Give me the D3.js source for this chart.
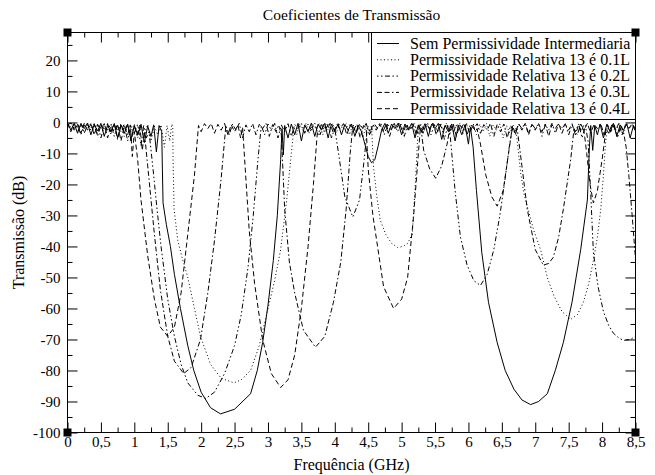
<!doctype html>
<html lang="pt">
<head>
<meta charset="utf-8">
<title>Coeficientes de Transmissão</title>
<style type="text/css">
	body {
		margin: 0;
		background-color: white;
	}
	svg, svg text, .axis text {
		font-family: "Liberation Serif", "Times New Roman", serif;
	}
	.axis path {
		display: none;
	}
	.axis line {
		stroke: black;
		stroke-width: 1px;
	}
	.axis text {
		font-size: 15px;
		fill: black;
	}
	path.line {
		fill: none;
		stroke: black;
		stroke-width: 1px;
	}
	.legend text {
		font-size: 16px;
	}
</style>
</head>
<body>
<script src="https://cdn.jsdelivr.net/npm/d3@7"></script>
<script type="text/javascript">
	// ticks
	var xTicks = [0, 0.5, 1, 1.5, 2, 2.5, 3, 3.5, 4, 4.5, 5, 5.5, 6, 6.5, 7, 7.5, 8, 8.5];
	var yTicks = [-100, -90, -80, -70, -60, -50, -40, -30, -20, -10, 0, 10, 20];

	var seriesNames = [
		"Sem Permissividade Intermediaria",
		"Permissividade Relativa 13 é 0.1L",
		"Permissividade Relativa 13 é 0.2L",
		"Permissividade Relativa 13 é 0.3L",
		"Permissividade Relativa 13 é 0.4L"
	];

	// [frequencia GHz, transmissao dB]
	var semPermissividade = [
		[0,0],[0.05,-2.5],[0.1,-0.3],[0.15,-3.5],[0.2,-0.5],[0.25,-2],[0.3,-0.2],[0.35,-4],[0.4,-0.6],[0.45,-2.8],
		[0.5,-0.3],[0.55,-4.5],[0.6,-1],[0.65,-3],[0.7,-0.4],[0.75,-5],[0.8,-0.8],[0.85,-3.5],[0.9,-0.5],[0.95,-5.5],
		[1.0,-1],[1.05,-4],[1.1,-0.6],[1.15,-6.5],[1.2,-1.2],[1.25,-4.5],[1.29,-0.8],[1.33,-9.5],[1.37,-1],[1.41,-3],
		[1.42,-15],[1.43,-26],[1.48,-33],[1.54,-40],[1.6,-49],[1.69,-60],[1.8,-72],[1.89,-80],[2.0,-87],[2.14,-92],
		[2.29,-94],[2.5,-92.5],[2.74,-87.5],[2.84,-80],[2.92,-71],[3.0,-59],[3.08,-44.5],[3.14,-30],[3.19,-12],[3.21,-2],
		[3.23,-10.5],[3.25,-1],[3.3,-5],[3.35,-0.5],[3.4,-4],[3.45,-0.3],[3.5,-6],[3.55,-0.8],[3.6,-3],[3.65,-0.2],
		[3.7,-4.5],[3.75,-0.6],[3.8,-2.5],[3.85,-0.3],[3.9,-5],[3.95,-0.5],[4.0,-3],[4.05,-0.4],[4.1,-4],[4.15,-0.7],
		[4.2,-2.5],[4.25,-0.5],[4.3,-4.5],[4.35,-1],[4.4,-3],[4.45,-7],[4.5,-11],[4.55,-13],[4.6,-12],[4.65,-7.5],
		[4.7,-2.5],[4.75,-0.3],[4.8,-3.5],[4.85,-0.5],[4.9,-2],[4.95,-0.2],[5.0,-4],[5.05,-0.5],[5.1,-2.5],[5.15,-0.3],
		[5.2,-5],[5.25,-0.8],[5.3,-3],[5.35,-0.4],[5.4,-4.5],[5.45,-0.5],[5.5,-2],[5.55,-0.3],[5.6,-5.5],[5.65,-1],
		[5.7,-3],[5.75,-0.5],[5.8,-6],[5.85,-1],[5.9,-4],[5.95,-0.8],[6.0,-7],[6.03,-1.5],[6.07,-8],[6.12,-22],
		[6.2,-42],[6.3,-58],[6.43,-71],[6.55,-80],[6.68,-86],[6.8,-89.5],[6.93,-91],[7.05,-90],[7.18,-87.5],[7.3,-80],
		[7.42,-71],[7.55,-58],[7.68,-41],[7.78,-25],[7.81,-8],[7.83,-1],[7.86,-9],[7.89,-1],[7.93,-4],[7.97,-0.5],
		[8.02,-5],[8.07,-0.6],[8.12,-3],[8.17,-0.3],[8.22,-4.5],[8.27,-0.8],[8.32,-2.5],[8.37,-0.4],[8.42,-5],[8.47,-1],
		[8.5,-2.5]
	];

	var relativa01L = [
		[0,-0.5],[0.05,-1.5],[0.1,-0.2],[0.15,-3],[0.2,-0.8],[0.25,-1.5],[0.3,-0.3],[0.35,-2.5],[0.4,-0.5],[0.45,-3.5],
		[0.5,-0.7],[0.55,-2],[0.6,-0.3],[0.65,-4],[0.7,-0.8],[0.75,-2.5],[0.8,-0.4],[0.85,-4.5],[0.9,-1],[0.95,-3],
		[1.0,-0.5],[1.05,-5],[1.1,-1],[1.15,-3.5],[1.2,-0.6],[1.25,-6],[1.3,-1.2],[1.35,-4],[1.4,-0.8],[1.45,-8],
		[1.49,-1],[1.53,-6],[1.56,-0.5],[1.575,-1],[1.58,-12],[1.595,-28],[1.65,-38],[1.72,-44],[1.8,-50],[1.9,-60],
		[1.99,-69],[2.14,-78],[2.3,-82.5],[2.49,-84],[2.6,-83],[2.74,-80],[2.87,-72],[2.99,-61],[3.1,-51],[3.19,-41],
		[3.28,-25],[3.34,-12],[3.39,-1.5],[3.43,-4],[3.47,-0.5],[3.52,-2.5],[3.57,-0.3],[3.62,-3.5],[3.67,-0.6],[3.72,-2],
		[3.77,-0.2],[3.82,-4],[3.87,-0.5],[3.92,-2.5],[3.97,-0.3],[4.02,-3.5],[4.07,-0.7],[4.12,-2],[4.17,-0.4],[4.22,-4],
		[4.27,-0.6],[4.32,-3],[4.37,-0.5],[4.42,-5],[4.47,-0.8],[4.52,-3],[4.55,-1],[4.58,-14.5],[4.63,-24],[4.68,-31.5],
		[4.76,-36],[4.85,-39],[4.94,-40.3],[5.02,-40],[5.09,-39],[5.16,-36],[5.21,-18],[5.24,-5],[5.27,-0.5],[5.32,-3],
		[5.37,-0.4],[5.42,-2],[5.47,-0.2],[5.52,-3.5],[5.57,-0.6],[5.62,-2.5],[5.67,-0.3],[5.72,-4],[5.77,-0.5],[5.82,-2],
		[5.87,-0.4],[5.92,-3.5],[5.97,-0.7],[6.02,-2.5],[6.07,-0.3],[6.12,-4],[6.17,-0.6],[6.22,-3],[6.27,-0.4],[6.32,-4.5],
		[6.37,-0.8],[6.42,-2.5],[6.47,-0.5],[6.52,-5],[6.57,-1],[6.62,-3.5],[6.67,-0.8],[6.71,-2],[6.74,-8],[6.78,-16],
		[6.83,-23],[6.98,-35],[7.08,-41],[7.18,-50],[7.28,-56],[7.4,-61],[7.53,-63.5],[7.63,-62],[7.72,-58],[7.8,-52],
		[7.87,-44.5],[7.93,-37],[7.98,-28],[8.02,-17],[8.05,-7],[8.08,-1],[8.12,-3.5],[8.16,-0.5],[8.21,-2.5],[8.26,-0.3],
		[8.31,-4],[8.36,-0.6],[8.41,-2],[8.46,-0.4],[8.5,-3]
	];

	var relativa02L = [
		[0,-1],[0.05,-0.2],[0.1,-2.5],[0.15,-0.5],[0.2,-4],[0.25,-0.8],[0.3,-2],[0.35,-0.3],[0.4,-3.5],[0.45,-0.6],
		[0.5,-5],[0.55,-1],[0.6,-2.5],[0.65,-0.4],[0.7,-4.5],[0.75,-0.8],[0.8,-3],[0.85,-0.5],[0.9,-6],[0.95,-1.2],
		[1.0,-3.5],[1.05,-0.6],[1.1,-7.5],[1.14,-1],[1.18,-5],[1.22,-3],[1.28,-15],[1.34,-28],[1.4,-40],[1.5,-57],
		[1.6,-69],[1.7,-78],[1.8,-84],[1.95,-88],[2.07,-89],[2.2,-87],[2.35,-81],[2.5,-72],[2.6,-62],[2.7,-47],
		[2.78,-30],[2.85,-12],[2.9,-1],[2.95,-4],[3.0,-0.5],[3.05,-2.5],[3.1,-0.3],[3.15,-5],[3.2,-0.8],[3.25,-3],
		[3.3,-0.4],[3.35,-4.5],[3.4,-0.6],[3.45,-2],[3.5,-0.3],[3.55,-3.5],[3.6,-0.5],[3.65,-2.5],[3.7,-0.2],[3.75,-4],
		[3.8,-0.7],[3.85,-3],[3.9,-0.5],[3.95,-5],[4.0,-2],[4.07,-12],[4.15,-24],[4.27,-30.5],[4.37,-25],[4.44,-12],
		[4.49,-1],[4.54,-3.5],[4.59,-0.4],[4.64,-2],[4.69,-0.3],[4.74,-4],[4.79,-0.6],[4.84,-2.5],[4.89,-0.3],[4.94,-3],
		[4.99,-0.5],[5.04,-4.5],[5.09,-0.8],[5.14,-2],[5.19,-0.4],[5.24,-3.5],[5.29,-0.6],[5.34,-2.5],[5.39,-0.3],[5.44,-4],
		[5.49,-0.7],[5.54,-3],[5.59,-0.5],[5.64,-5.5],[5.69,-1],[5.73,-5],[5.8,-22],[5.88,-37],[5.98,-46],[6.08,-51],
		[6.18,-52.6],[6.28,-49],[6.38,-41],[6.47,-30],[6.55,-18],[6.61,-8],[6.66,-1.5],[6.7,-4],[6.75,-0.5],[6.8,-2.5],
		[6.85,-0.3],[6.9,-3.5],[6.95,-0.6],[7.0,-2],[7.05,-0.4],[7.1,-4.5],[7.15,-0.7],[7.2,-2.5],[7.25,-0.3],[7.3,-3.5],
		[7.35,-0.5],[7.4,-2],[7.45,-0.4],[7.5,-4],[7.55,-0.8],[7.6,-3],[7.65,-0.5],[7.7,-5],[7.75,-1],[7.79,-6],
		[7.83,-23],[7.87,-42],[7.94,-53],[8.02,-61],[8.1,-65.5],[8.17,-68],[8.25,-69.5],[8.32,-70.3],[8.42,-70],[8.5,-69]
	];

	var relativa03L = [
		[0,-0.3],[0.05,-3],[0.1,-0.6],[0.15,-1.5],[0.2,-0.2],[0.25,-3.5],[0.3,-0.7],[0.35,-2],[0.4,-0.4],[0.45,-4.5],
		[0.5,-0.8],[0.55,-2.5],[0.6,-0.5],[0.65,-3],[0.7,-0.3],[0.75,-5.5],[0.8,-1],[0.85,-2.5],[0.9,-0.6],[0.95,-6],
		[1.0,-1.2],[1.04,-4],[1.08,-0.8],[1.12,-9],[1.15,-3],[1.2,-14],[1.3,-36],[1.39,-54],[1.5,-69],[1.6,-77],
		[1.74,-81],[1.85,-79],[1.99,-70],[2.1,-55],[2.2,-38],[2.3,-18],[2.37,-1],[2.42,-4],[2.47,-0.5],[2.52,-2.5],
		[2.57,-0.3],[2.62,-5],[2.67,-0.8],[2.72,-3],[2.77,-0.4],[2.82,-4],[2.87,-0.6],[2.92,-2],[2.97,-0.3],[3.02,-4.5],
		[3.07,-0.7],[3.12,-3],[3.16,-0.8],[3.2,-4],[3.25,-28],[3.32,-45],[3.4,-55],[3.53,-67],[3.71,-72.5],[3.85,-69],
		[3.98,-58],[4.09,-45],[4.17,-28],[4.23,-10],[4.27,-1],[4.32,-3.5],[4.37,-0.5],[4.42,-2],[4.47,-0.3],[4.52,-4],
		[4.57,-0.6],[4.62,-2.5],[4.67,-0.4],[4.72,-3],[4.77,-0.5],[4.82,-4.5],[4.87,-0.8],[4.92,-2],[4.97,-0.3],[5.02,-3.5],
		[5.07,-0.6],[5.12,-2.5],[5.17,-0.4],[5.22,-4],[5.26,-0.8],[5.29,-2],[5.33,-9],[5.42,-15],[5.51,-18],[5.6,-14],
		[5.68,-7],[5.73,-1],[5.78,-3],[5.83,-0.4],[5.88,-2.5],[5.93,-0.3],[5.98,-4],[6.03,-0.6],[6.08,-2],[6.13,-0.4],
		[6.18,-3.5],[6.23,-0.7],[6.28,-2.5],[6.33,-0.3],[6.38,-4.5],[6.43,-0.6],[6.48,-3],[6.53,-0.5],[6.58,-5],[6.63,-1],
		[6.68,-3],[6.73,-2],[6.8,-14],[6.88,-28],[7.0,-41],[7.12,-46],[7.2,-45.5],[7.27,-43.5],[7.35,-37],[7.42,-28],
		[7.53,-12],[7.58,-2],[7.63,-4],[7.68,-0.5],[7.73,-2.5],[7.78,-0.3],[7.83,-3.5],[7.88,-0.6],[7.93,-2],[7.98,-0.4],
		[8.03,-4],[8.08,-0.7],[8.13,-3],[8.18,-0.5],[8.23,-5],[8.28,-1],[8.32,-3],[8.36,-8],[8.4,-17],[8.45,-30],
		[8.5,-44]
	];

	var relativa04L = [
		[0,-0.8],[0.05,-0.2],[0.1,-2],[0.15,-0.5],[0.2,-3.5],[0.25,-0.3],[0.3,-2.5],[0.35,-0.6],[0.4,-4],[0.45,-0.8],
		[0.5,-2],[0.55,-0.4],[0.6,-5],[0.65,-1],[0.7,-3],[0.75,-0.5],[0.8,-6],[0.85,-1.2],[0.9,-4],[0.94,-0.8],
		[0.97,-11],[1.0,-3],[1.05,-12],[1.1,-25],[1.2,-43],[1.3,-57],[1.39,-66],[1.5,-69],[1.6,-66],[1.7,-55],
		[1.8,-36],[1.9,-17],[1.96,-1],[2.0,-3],[2.05,-0.4],[2.1,-2],[2.15,-0.3],[2.2,-3.5],[2.25,-0.6],[2.3,-2.5],
		[2.35,-0.3],[2.4,-4],[2.45,-0.7],[2.5,-3],[2.55,-0.8],[2.59,-5],[2.62,-1.5],[2.66,-15],[2.72,-35],[2.8,-52],
		[2.92,-70],[3.05,-81],[3.19,-85.5],[3.3,-83],[3.4,-75],[3.5,-60],[3.6,-40],[3.68,-20],[3.74,-3],[3.78,-4],
		[3.83,-0.5],[3.88,-2.5],[3.93,-0.3],[3.98,-3.5],[4.03,-0.6],[4.08,-2],[4.13,-0.4],[4.18,-4],[4.23,-0.7],[4.28,-2.5],
		[4.33,-0.5],[4.38,-5],[4.43,-1],[4.47,-2],[4.5,-15],[4.57,-30],[4.64,-40],[4.73,-53],[4.88,-60],[5.0,-57],
		[5.09,-50],[5.18,-30],[5.24,-13],[5.28,-2],[5.32,-3.5],[5.37,-0.4],[5.42,-2],[5.47,-0.3],[5.52,-4],[5.57,-0.6],
		[5.62,-2.5],[5.67,-0.4],[5.72,-3],[5.77,-0.5],[5.82,-4.5],[5.87,-0.8],[5.92,-2],[5.97,-0.4],[6.02,-3.5],[6.07,-0.7],
		[6.1,-3],[6.13,-2],[6.18,-7],[6.26,-17],[6.35,-24],[6.43,-27],[6.52,-22],[6.6,-10],[6.66,-1],[6.7,-3.5],
		[6.75,-0.4],[6.8,-2],[6.85,-0.3],[6.9,-4],[6.95,-0.6],[7.0,-2.5],[7.05,-0.4],[7.1,-3],[7.15,-0.5],[7.2,-4.5],
		[7.25,-0.8],[7.3,-2],[7.35,-0.3],[7.4,-3.5],[7.45,-0.6],[7.5,-2.5],[7.55,-0.4],[7.6,-4],[7.65,-0.7],[7.69,-3],
		[7.72,-1],[7.77,-10],[7.82,-20],[7.87,-26],[7.93,-22],[8.0,-12],[8.06,-2],[8.1,-3.5],[8.15,-0.5],[8.2,-2.5],
		[8.25,-0.3],[8.3,-4],[8.35,-0.7],[8.4,-2],[8.45,-0.4],[8.5,-3]
	];

	var dashes = [null, "1,2.5", "1.5,2.5,1.5,2.5,5,2.5", "5,2.5,5,2.5,1.5,2.5", "5,3"];

	var series = [semPermissividade, relativa01L, relativa02L, relativa03L, relativa04L].map(function(d, i) {
		return { name: seriesNames[i], values: d, dash: dashes[i] };
	});

	var fullwidth = 655;
	var fullheight = 475;
	var margin = { top: 32, right: 20, bottom: 43, left: 67 };

	var xScale = d3.scaleLinear()
		.domain([0, 8.5])
		.range([margin.left + 0.5, fullwidth - margin.right + 0.5]);
	var yScale = d3.scaleLinear()
		.domain([-100, 29])
		.range([fullheight - margin.bottom + 0.5, margin.top + 0.5]);

	var x0 = xScale.range()[0], x1 = xScale.range()[1];
	var y0 = yScale.range()[1], y1 = yScale.range()[0];

	var svg = d3.select("body")
		.append("svg")
		.attr("width", fullwidth)
		.attr("height", fullheight);

	var virgula = function(d) { return String(d).replace(".", ","); };
	var xMinor = d3.range(0.25, 8.5, 0.5);
	var yMinor = d3.range(-95, 29, 10);

	// eixos (ticks para dentro, estilo grace)
	function eixo(gen, pos, vals, size, fmt, pad) {
		svg.append("g").attr("class", "axis")
			.attr("transform", pos)
			.call(gen.tickValues(vals).tickSize(size).tickPadding(pad || 3).tickFormat(fmt || ""))
			.attr("font-family", null);
	}
	eixo(d3.axisBottom(xScale), "translate(0," + y1 + ")", xTicks, -10, virgula, 4);
	eixo(d3.axisBottom(xScale), "translate(0," + y1 + ")", xMinor, -5);
	eixo(d3.axisTop(xScale), "translate(0," + y0 + ")", xTicks, -10);
	eixo(d3.axisTop(xScale), "translate(0," + y0 + ")", xMinor, -5);
	eixo(d3.axisLeft(yScale), "translate(" + x0 + ",0)", yTicks, -10, function(d) { return d; }, 7);
	eixo(d3.axisLeft(yScale), "translate(" + x0 + ",0)", yMinor, -5);
	eixo(d3.axisRight(yScale), "translate(" + x1 + ",0)", yTicks, -10);
	eixo(d3.axisRight(yScale), "translate(" + x1 + ",0)", yMinor, -5);

	svg.append("rect")
		.attr("x", x0).attr("y", y0)
		.attr("width", x1 - x0).attr("height", y1 - y0)
		.attr("fill", "none").attr("stroke", "black");

	svg.append("clipPath").attr("id", "plotclip")
		.append("rect")
		.attr("x", x0).attr("y", y0)
		.attr("width", x1 - x0).attr("height", y1 - y0);

	var line = d3.line()
		.x(function(d) { return xScale(d[0]); })
		.y(function(d) { return yScale(d[1]); });

	svg.append("g")
		.attr("clip-path", "url(#plotclip)")
		.selectAll("path")
		.data(series)
		.enter()
		.append("path")
		.attr("class", "line")
		.attr("stroke-dasharray", function(d) { return d.dash; })
		.attr("d", function(d) { return line(d.values); });

	// legenda
	var legend = svg.append("g").attr("class", "legend");
	legend.append("rect")
		.attr("x", 371.5).attr("y", y0)
		.attr("width", x1 - 371.5).attr("height", 87)
		.attr("fill", "white").attr("stroke", "black");
	var items = legend.selectAll("g.item")
		.data(series)
		.enter()
		.append("g")
		.attr("class", "item")
		.attr("transform", function(d, i) { return "translate(0," + (43 + i * 16.3) + ")"; });
	items.append("line")
		.attr("x1", 377).attr("x2", 399)
		.attr("y1", 0.5).attr("y2", 0.5)
		.attr("stroke", "black")
		.attr("stroke-dasharray", function(d) { return d.dash; });
	items.append("text")
		.attr("x", 410)
		.attr("y", 5.5)
		.text(function(d) { return d.name; });

	// marcadores de canto
	[[x0, y0], [x1, y0], [x0, y1], [x1, y1]].forEach(function(c) {
		svg.append("rect")
			.attr("x", c[0] - 4).attr("y", c[1] - 4)
			.attr("width", 8).attr("height", 8)
			.attr("fill", "black");
	});

	svg.append("text")
		.attr("x", (x0 + x1) / 2)
		.attr("y", 20)
		.attr("text-anchor", "middle")
		.style("font-size", "15.5px")
		.text("Coeficientes de Transmissão");

	svg.append("text")
		.attr("x", (x0 + x1) / 2)
		.attr("y", 470)
		.attr("text-anchor", "middle")
		.style("font-size", "16px")
		.text("Frequência (GHz)");

	svg.append("text")
		.attr("transform", "translate(24," + ((y0 + y1) / 2) + ") rotate(-90)")
		.attr("text-anchor", "middle")
		.style("font-size", "16px")
		.text("Transmissão (dB)");
</script>
</body>
</html>
